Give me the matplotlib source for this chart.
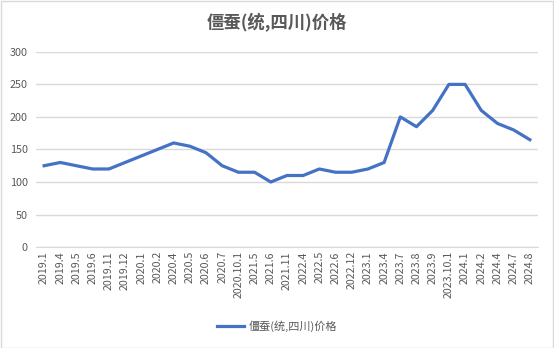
import matplotlib
matplotlib.use("Agg")
import matplotlib.pyplot as plt
from matplotlib.patches import Rectangle

plt.rcParams['font.family'] = ['Noto Sans CJK SC', 'DejaVu Sans']

labels = ['2019.1', '2019.4', '2019.5', '2019.6', '2019.11', '2019.12', '2020.1',
          '2020.2', '2020.4', '2020.5', '2020.6', '2020.7', '2020.10.1', '2021.5',
          '2021.6', '2021.11', '2022.4', '2022.5', '2022.6', '2022.12', '2023.1',
          '2023.4', '2023.7', '2023.8', '2023.9', '2023.10.1', '2024.1', '2024.2',
          '2024.4', '2024.7', '2024.8']
prices = [125, 130, 125, 120, 120, 130, 140, 150, 160, 155, 145, 125, 115, 115,
          100, 110, 110, 120, 115, 115, 120, 130, 200, 185, 210, 250, 250, 210,
          190, 180, 165]
series_name = '僵蚕(统,四川)价格'

def main():
    fig = plt.figure(figsize=(5.54, 3.48), dpi=100)
    ax = fig.add_axes([0.065, 0.29, 0.906, 0.561])
    fig.patches.append(Rectangle((0.001, 0.001), 0.997, 0.996, transform=fig.transFigure,
                                 fill=False, edgecolor='#d9d9d9', linewidth=1))

    x = list(range(len(labels)))
    line, = ax.plot(x, prices, color='#4472C4', linewidth=2.3, solid_joinstyle='round')

    ax.set_xlim(-0.5, len(labels) - 0.5)
    ax.set_ylim(0, 300)
    ax.set_yticks(range(0, 301, 50))
    ax.set_xticks(x)
    ax.set_xticklabels(labels, rotation=90, fontsize=7.7, color='#595959')
    ax.tick_params(axis='y', labelsize=7.8, labelcolor='#595959', length=0, pad=6)
    ax.tick_params(axis='x', length=0, pad=3)

    ax.grid(axis='y', color='#d9d9d9', linewidth=1)
    ax.set_axisbelow(True)
    for s in ['top', 'right', 'left']:
        ax.spines[s].set_visible(False)
    ax.spines['bottom'].set_color('#d9d9d9')

    fig.text(0.5, 0.935, series_name, ha='center', va='center', fontsize=12.5,
             fontweight='bold', color='#595959')
    fig.legend([line], [series_name], loc='center', bbox_to_anchor=(0.5, 0.062),
               frameon=False, fontsize=8, labelcolor='#595959', handlelength=2.4,
               handletextpad=0.4)

    fig.savefig('out.png', dpi=100)

if __name__ == "__main__":
    main()
